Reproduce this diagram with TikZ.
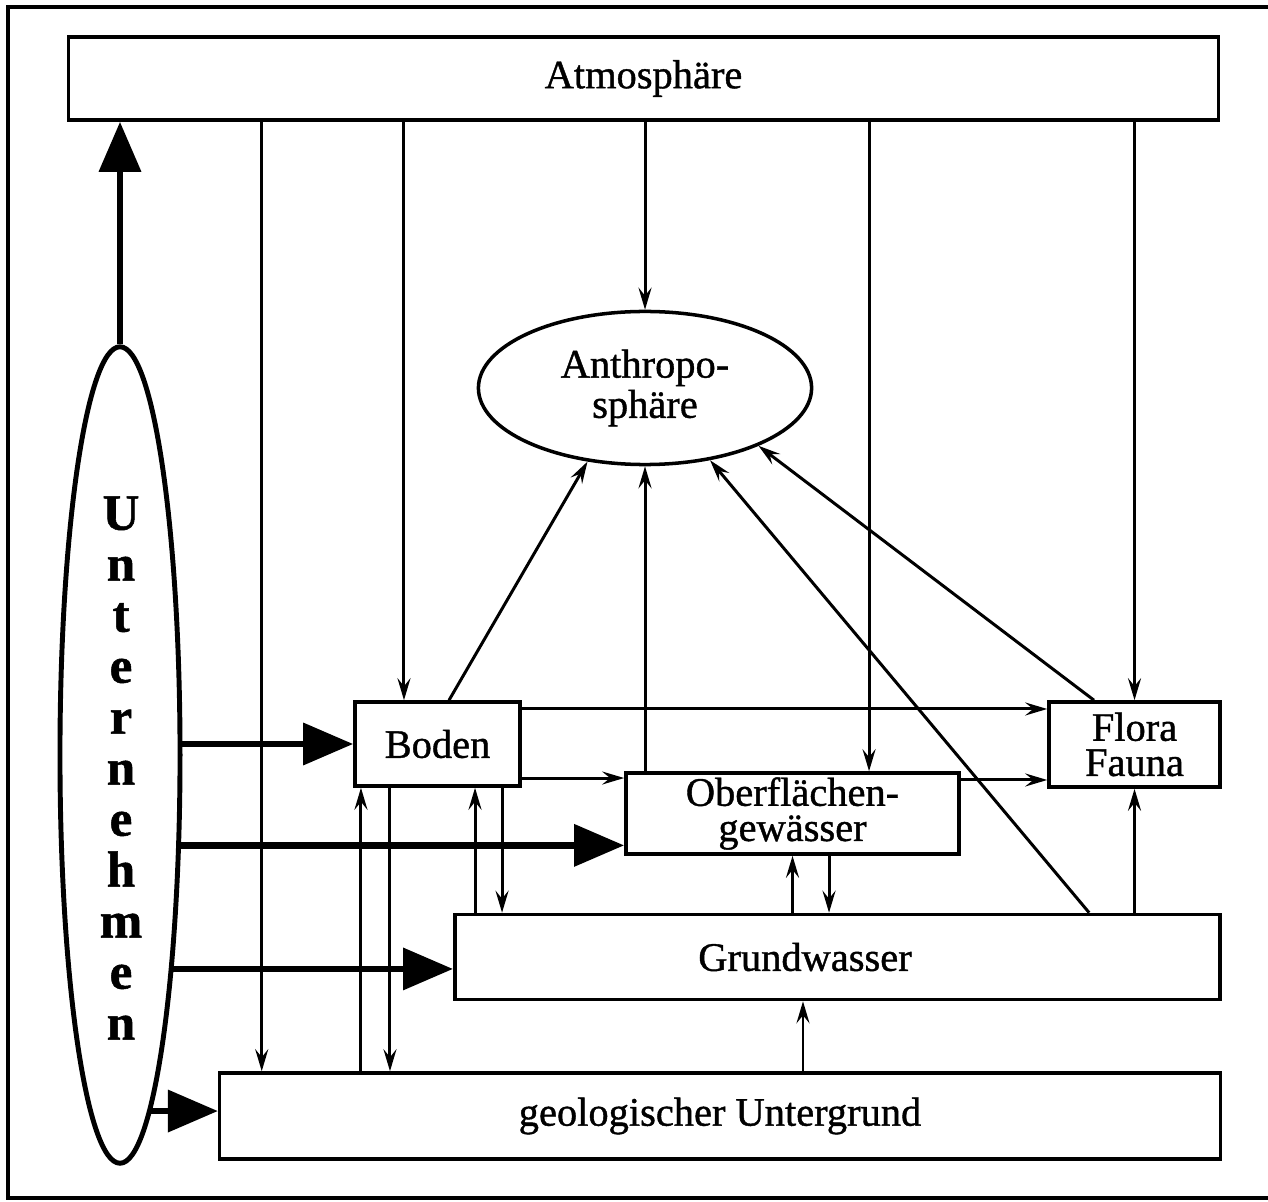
\documentclass[tikz,border=0pt]{standalone}
\usepackage{fontspec}
\setmainfont{Liberation Serif}[FakeBold=1]
\usetikzlibrary{arrows.meta,shapes.geometric}

\begin{document}
\begin{tikzpicture}[x=0.01cm,y=-0.01cm,
    font=\fontsize{11.5}{10}\selectfont,
    box/.style={draw,line width=1pt,inner sep=0pt},
    flow/.style={line width=0.85pt,-{Stealth[length=2.2mm,width=1.3mm,inset=0.8mm]}},
    push/.style={line width=1.9pt,-{Triangle[length=5mm,width=4.1mm]}}]
  \useasboundingbox (0,0) rectangle (1268,1201);
  \draw[line width=1.1pt] (1300,7) -- (8,7) -- (8,1198) -- (1300,1198);

  % compartments
  \node[box,minimum width=11.49cm,minimum height=0.83cm] (atmo) at (643.5,78.5) {Atmosphäre};
  \node[draw,ellipse,line width=1pt,minimum width=3.33cm,minimum height=1.53cm,inner sep=0pt,align=center] (anthro) at (645,388) {Anthropo-\\sphäre};
  \node[box,minimum width=1.65cm,minimum height=0.84cm] (boden) at (437.5,744) {Boden};
  \node[box,minimum width=1.71cm,minimum height=0.85cm,align=center] (flora) at (1134.5,744.5) {Flora\\Fauna};
  \node[box,minimum width=3.33cm,minimum height=0.81cm,align=center] (ober) at (792.5,813.5) {Oberflächen-\\gewässer};
  \node[box,minimum width=7.65cm,minimum height=0.85cm] (grund) at (837.5,957) {};
  \node (grundlabel) at ([xshift=-0.325cm]grund.center) {Grundwasser};
  \node[box,minimum width=10cm,minimum height=0.86cm] (geol) at (720,1116) {geologischer Untergrund};

  % the firm
  \node[draw,ellipse,line width=1.4pt,minimum width=1.2cm,minimum height=8.16cm,inner sep=0pt] (unter) at (120,755) {};
  \node[font=\fontsize{14.5}{14.5}\selectfont\bfseries,align=center] (unterlabel) at (121,768) {U\\n\\t\\e\\r\\n\\e\\h\\m\\e\\n};

  % Unternehmen acts on everything
  \draw[push] (unter.north) -- (unter.north |- atmo.south);
  \draw[push] (unter.10) -- (unter.10 -| boden.west);
  \draw[push] (unter.-56) -- (unter.-56 -| ober.west);
  \draw[push] (unter.-76) -- (unter.-76 -| grund.west);
  \draw[push] (unter.-85.6) -- (unter.-85.6 -| geol.west);

  % from the atmosphere
  \draw[flow] ([xshift=-4.58cm]geol.north |- atmo.south) -- ([xshift=-4.58cm]geol.north);
  \draw[flow] ([xshift=-0.335cm]boden.north |- atmo.south) -- ([xshift=-0.335cm]boden.north);
  \draw[flow] (anthro.north |- atmo.south) -- (anthro.north);
  \draw[flow] ([xshift=0.765cm]ober.north |- atmo.south) -- ([xshift=0.765cm]ober.north);
  \draw[flow] (flora.north |- atmo.south) -- (flora.north);

  % sideways
  \draw[flow] ([yshift=0.35cm]boden.east) -- ([yshift=0.35cm]boden.east -| flora.west);
  \draw[flow] ([yshift=-0.34cm]boden.east) -- ([yshift=-0.34cm]boden.east -| ober.west);
  \draw[flow] ([yshift=0.335cm]ober.east) -- ([yshift=0.335cm]ober.east -| flora.west);

  % up and down
  \draw[flow] ([xshift=-0.765cm]boden.south |- geol.north) -- ([xshift=-0.765cm]boden.south);
  \draw[flow] ([xshift=-0.475cm]boden.south) -- ([xshift=-0.475cm]boden.south |- geol.north);
  \draw[flow] ([xshift=0.375cm]boden.south |- grund.north) -- ([xshift=0.375cm]boden.south);
  \draw[flow] ([xshift=0.645cm]boden.south) -- ([xshift=0.645cm]boden.south |- grund.north);
  \draw[flow] (ober.south |- grund.north) -- (ober.south);
  \draw[flow] ([xshift=0.365cm]ober.south) -- ([xshift=0.365cm]ober.south |- grund.north);
  \draw[flow] (flora.south |- grund.north) -- (flora.south);
  \draw[flow] ([xshift=-0.345cm]grund.south |- geol.north) -- ([xshift=-0.345cm]grund.south);

  % into the anthroposphere
  \draw[flow] ([xshift=0.115cm]boden.north) -- (anthro.-128);
  \draw[flow] (ober.north -| anthro.south) -- (anthro.south);
  \draw[flow] ([xshift=2.515cm]grund.north) -- (anthro.-48);
  \draw[flow] ([xshift=-0.405cm]flora.north) -- (anthro.-27);
\end{tikzpicture}
\end{document}
